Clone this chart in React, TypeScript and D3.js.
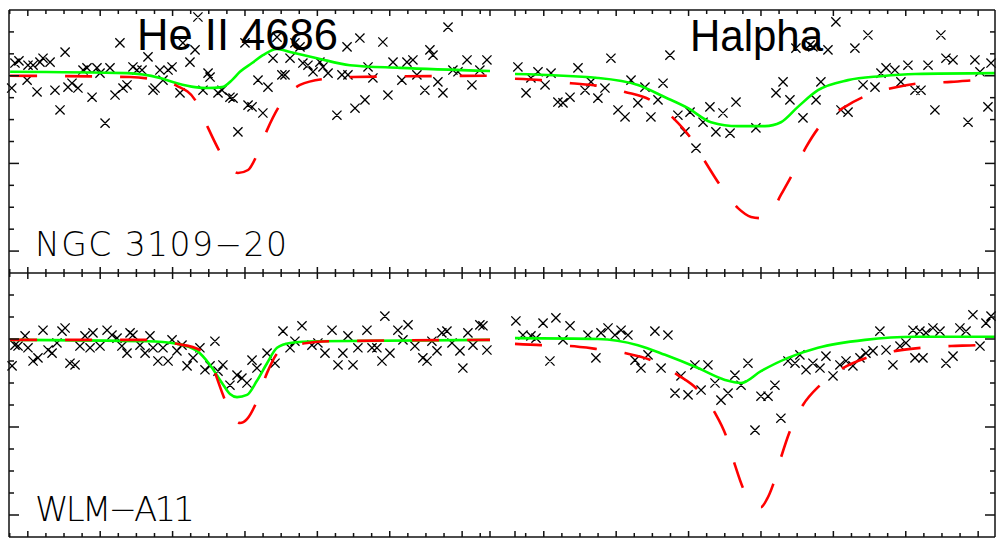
import React from 'react';
import * as d3 from 'd3';

const W = 998;
const H = 540;

// wavelength windows (Angstrom) of the two columns and the flux window
const heRange: [number, number] = [4672.96, 4699.54];
const haRange: [number, number] = [6549.41, 6575.93];
const fluxRange: [number, number] = [0.55, 1.15];

const lineTitles = ['He II 4686', 'Halpha'];
const starNames = ['NGC 3109\u221220', 'WLM\u2212A11'];

// x tick values (1 A minor, 4 A major)
const heTicks = d3.range(4673, 4700, 1);
const haTicks = d3.range(6550, 6576, 1);
const heMajorRef = 4674;
const haMajorRef = 6563;
// y tick values (0.05 minor, 0.2 major)
const fluxTicks = [0.6, 0.65, 0.7, 0.75, 0.8, 0.85, 0.9, 0.95, 1.0, 1.05, 1.1];
const fluxMajor = [0.6, 0.8, 1.0];

// ---------- NGC 3109-20, He II 4686 ----------
const ngcHeObs: [number, number][] = [
  [4673.11, 0.972], [4673.29, 1.029], [4673.51, 1.034], [4674.01, 1.024], [4673.96, 0.990], [4674.29, 1.024],
  [4674.51, 0.963], [4674.67, 1.031], [4674.84, 1.040], [4675.23, 1.031], [4675.50, 0.967], [4675.78, 0.922],
  [4676.06, 1.054], [4676.22, 0.974], [4676.44, 0.983], [4676.77, 0.972], [4677.05, 1.013], [4677.27, 1.018],
  [4677.55, 0.951], [4677.82, 1.018], [4677.99, 1.006], [4678.27, 0.892], [4678.54, 1.018], [4678.82, 0.956],
  [4679.09, 1.075], [4679.26, 0.972], [4679.48, 0.979], [4679.81, 1.020], [4680.03, 1.013], [4680.31, 1.013],
  [4680.64, 1.043], [4680.92, 0.967], [4681.03, 0.972], [4681.30, 1.013], [4681.47, 0.990], [4681.75, 1.013],
  [4681.97, 1.020], [4682.41, 0.961], [4682.57, 1.075], [4682.96, 1.031], [4683.24, 1.059], [4683.40, 1.134],
  [4683.68, 0.967], [4683.96, 1.006], [4684.07, 0.997], [4684.51, 0.961], [4684.73, 0.967], [4685.17, 0.951],
  [4685.34, 0.949], [4685.61, 0.872], [4686.00, 1.075], [4686.17, 0.933], [4686.39, 0.929], [4686.72, 0.990],
  [4686.99, 0.915], [4687.27, 0.974], [4687.55, 1.040], [4687.77, 1.088], [4688.04, 1.002], [4688.21, 1.002],
  [4688.49, 1.040], [4688.76, 1.075], [4689.04, 1.066], [4689.20, 1.029], [4689.48, 1.024], [4689.76, 1.009],
  [4690.14, 1.031], [4690.31, 1.020], [4690.59, 1.006], [4691.08, 0.910], [4691.36, 1.002], [4691.64, 1.066],
  [4691.69, 1.002], [4692.08, 0.926], [4692.35, 1.086], [4692.63, 0.945], [4692.80, 1.020], [4693.07, 0.995],
  [4693.62, 1.077], [4693.90, 0.956], [4694.18, 1.031], [4694.67, 0.990], [4694.95, 1.031], [4695.28, 1.036],
  [4695.50, 1.002], [4695.94, 0.967], [4696.22, 1.059], [4696.39, 1.047], [4696.66, 0.986], [4696.94, 0.961],
  [4697.22, 1.111], [4697.49, 1.013], [4697.77, 1.009], [4698.27, 1.036], [4698.54, 0.979], [4698.98, 1.013],
  [4699.37, 1.036],
];
const ngcHeFit: [number, number][] = [
  [4673.02, 1.009], [4679.48, 1.006], [4681.30, 0.995], [4682.24, 0.983], [4683.24, 0.974], [4683.90, 0.972],
  [4684.73, 0.974], [4685.28, 0.990], [4685.72, 1.009], [4686.39, 1.029], [4686.99, 1.047], [4687.77, 1.061],
  [4688.49, 1.054], [4689.98, 1.040], [4691.80, 1.024], [4694.56, 1.018], [4699.54, 1.011],
];
const ngcHeModel: [number, number][] = [
  [4673.02, 1.000], [4679.65, 0.997], [4680.75, 0.993], [4682.24, 0.977], [4683.24, 0.945], [4683.96, 0.881],
  [4684.62, 0.826], [4685.17, 0.792], [4685.61, 0.778], [4686.17, 0.785], [4686.66, 0.819], [4687.22, 0.876],
  [4687.93, 0.933], [4689.04, 0.979], [4690.42, 0.993], [4691.97, 0.997], [4699.54, 1.000],
];

// ---------- NGC 3109-20, Halpha ----------
const ngcHaObs: [number, number][] = [
  [6549.57, 1.020], [6550.02, 0.961], [6550.29, 0.995], [6550.68, 1.009], [6551.07, 0.979], [6551.40, 1.006],
  [6551.78, 0.940], [6552.06, 0.938], [6552.45, 0.951], [6552.89, 1.018], [6553.28, 0.967], [6553.61, 0.986],
  [6553.99, 0.949], [6554.38, 0.972], [6554.71, 1.040], [6555.10, 0.922], [6555.49, 0.906], [6555.82, 0.990],
  [6556.20, 0.938], [6556.59, 0.974], [6556.92, 0.906], [6557.31, 0.945], [6557.59, 0.983], [6557.97, 1.047],
  [6558.41, 0.910], [6558.80, 0.872], [6559.08, 0.917], [6559.41, 0.835], [6559.80, 0.894], [6560.18, 0.929],
  [6560.51, 0.872], [6560.90, 0.915], [6561.29, 0.869], [6561.62, 0.940], [6562.72, 0.881], [6563.83, 0.961],
  [6564.22, 0.986], [6564.60, 0.945], [6564.93, 1.063], [6565.32, 0.904], [6565.71, 1.070], [6565.87, 1.066],
  [6566.04, 0.945], [6566.31, 0.986], [6566.70, 1.059], [6567.14, 1.123], [6567.42, 0.922], [6567.81, 0.917],
  [6568.19, 1.063], [6568.64, 0.979], [6568.91, 1.093], [6569.30, 0.974], [6569.63, 1.006], [6569.91, 1.018],
  [6570.40, 1.013], [6570.73, 0.986], [6571.12, 1.024], [6571.51, 0.967], [6571.84, 0.967], [6572.23, 1.024],
  [6572.61, 0.922], [6572.94, 1.093], [6573.22, 1.040], [6573.61, 1.036], [6574.44, 0.894], [6574.82, 1.036],
  [6575.10, 1.009], [6575.54, 0.929], [6575.71, 1.029],
];
const ngcHaFit: [number, number][] = [
  [6549.41, 1.004], [6553.99, 0.995], [6556.20, 0.979], [6557.70, 0.951], [6558.97, 0.926], [6560.24, 0.894],
  [6561.73, 0.885], [6563.22, 0.885], [6564.10, 0.894], [6565.04, 0.929], [6566.15, 0.967], [6567.81, 0.990],
  [6569.63, 0.999], [6571.51, 1.004], [6575.93, 1.006],
];
const ngcHaModel: [number, number][] = [
  [6549.41, 0.993], [6550.85, 0.990], [6552.50, 0.983], [6553.99, 0.977], [6555.49, 0.963], [6556.87, 0.945],
  [6558.14, 0.904], [6559.08, 0.860], [6559.96, 0.801], [6560.73, 0.751], [6561.73, 0.698], [6562.45, 0.678],
  [6563.00, 0.675], [6563.55, 0.687], [6564.10, 0.728], [6564.77, 0.778], [6565.49, 0.837], [6566.31, 0.888],
  [6567.64, 0.929], [6568.91, 0.956], [6570.46, 0.974], [6571.84, 0.983], [6573.50, 0.986], [6574.88, 0.990],
  [6575.93, 0.993],
];

// ---------- WLM-A11, He II 4686 ----------
const wlmHeObs: [number, number][] = [
  [4673.13, 0.939], [4673.29, 0.986], [4673.46, 0.984], [4673.85, 1.007], [4674.01, 0.980], [4674.29, 0.950],
  [4674.56, 0.957], [4674.84, 1.020], [4675.12, 0.975], [4675.34, 0.968], [4675.61, 0.991], [4675.89, 1.018],
  [4676.06, 1.025], [4676.33, 0.945], [4676.61, 0.941], [4676.88, 0.984], [4677.16, 1.007], [4677.44, 0.980],
  [4677.60, 1.014], [4677.99, 0.984], [4678.38, 1.020], [4678.65, 1.009], [4678.93, 1.002], [4679.20, 0.984],
  [4679.48, 0.968], [4679.65, 1.014], [4679.81, 1.009], [4680.20, 0.986], [4680.48, 0.968], [4680.75, 1.007],
  [4680.92, 0.980], [4681.19, 0.950], [4681.47, 0.980], [4681.75, 0.950], [4681.97, 0.998], [4682.24, 0.973],
  [4682.52, 0.986], [4682.80, 0.939], [4683.13, 0.957], [4683.51, 0.980], [4683.79, 0.930], [4684.07, 0.939],
  [4684.34, 0.995], [4684.51, 0.927], [4684.78, 0.941], [4685.17, 0.895], [4685.56, 0.918], [4685.83, 0.911],
  [4686.11, 0.900], [4686.39, 0.952], [4686.66, 0.934], [4687.22, 0.968], [4687.66, 0.945], [4688.10, 1.018],
  [4688.49, 0.980], [4688.76, 0.995], [4689.15, 1.030], [4689.70, 0.986], [4690.03, 0.991], [4690.42, 0.968],
  [4690.81, 1.020], [4691.14, 0.941], [4691.41, 0.968], [4691.69, 1.007], [4691.97, 0.941], [4692.24, 0.980],
  [4692.74, 1.020], [4693.02, 0.980], [4693.29, 0.980], [4693.57, 0.950], [4693.73, 1.052], [4694.01, 0.968],
  [4694.45, 1.020], [4694.73, 0.998], [4695.01, 1.032], [4695.39, 0.984], [4695.83, 0.957], [4696.06, 0.950],
  [4696.33, 0.995], [4696.61, 0.973], [4696.88, 1.014], [4697.16, 1.018], [4697.44, 0.991], [4697.88, 0.973],
  [4698.04, 0.934], [4698.32, 1.014], [4698.60, 0.986], [4698.98, 1.032], [4699.15, 1.030], [4699.37, 0.975],
];
const wlmHeFit: [number, number][] = [
  [4673.02, 0.998], [4680.59, 0.995], [4682.24, 0.989], [4683.35, 0.973], [4684.07, 0.941], [4684.73, 0.900],
  [4685.17, 0.875], [4685.56, 0.868], [4686.11, 0.873], [4686.66, 0.905], [4687.22, 0.945], [4687.77, 0.980],
  [4688.49, 0.991], [4689.98, 0.995], [4699.54, 0.998],
];
const wlmHeModel: [number, number][] = [
  [4673.02, 0.998], [4680.75, 0.998], [4682.24, 0.989], [4683.51, 0.975], [4684.07, 0.957], [4684.45, 0.911],
  [4684.90, 0.861], [4685.34, 0.825], [4685.72, 0.809], [4686.11, 0.818], [4686.66, 0.859], [4687.22, 0.923],
  [4687.93, 0.973], [4689.43, 0.991], [4690.86, 0.995], [4699.54, 0.998],
];

// ---------- WLM-A11, Halpha ----------
const wlmHaObs: [number, number][] = [
  [6549.46, 1.041], [6549.85, 1.009], [6550.29, 1.007], [6550.57, 1.002], [6550.96, 1.036], [6551.34, 0.950],
  [6551.67, 1.048], [6552.06, 0.998], [6552.45, 1.030], [6553.44, 1.009], [6553.88, 0.957], [6554.16, 1.014],
  [6554.55, 1.025], [6554.93, 1.009], [6555.27, 1.020], [6555.65, 1.009], [6556.04, 0.952], [6556.37, 0.934],
  [6556.76, 0.964], [6557.14, 1.018], [6557.48, 0.934], [6557.86, 1.009], [6558.25, 0.877], [6558.58, 0.916],
  [6558.97, 0.873], [6559.35, 0.941], [6559.69, 0.884], [6560.07, 0.941], [6560.46, 0.900], [6560.79, 0.861],
  [6561.18, 0.877], [6561.56, 0.918], [6561.90, 0.895], [6562.28, 0.945], [6562.67, 0.793], [6563.00, 0.870],
  [6563.39, 0.870], [6563.77, 0.895], [6564.10, 0.820], [6564.49, 0.950], [6564.88, 0.945], [6565.15, 0.964],
  [6565.49, 0.930], [6565.87, 0.945], [6566.26, 0.934], [6566.59, 0.961], [6566.98, 0.916], [6567.36, 0.941],
  [6567.70, 0.950], [6568.08, 0.939], [6568.47, 0.957], [6568.80, 0.968], [6569.19, 0.973], [6569.57, 1.018],
  [6569.91, 0.975], [6570.29, 0.941], [6570.68, 0.984], [6571.01, 0.991], [6571.40, 1.020], [6571.51, 0.957],
  [6571.78, 1.018], [6571.95, 0.957], [6572.12, 1.014], [6572.50, 1.025], [6572.89, 1.018], [6573.22, 0.945],
  [6573.61, 0.961], [6573.99, 1.025], [6574.33, 1.018], [6574.71, 1.055], [6575.10, 0.984], [6575.43, 1.036],
  [6575.71, 1.052],
];
const wlmHaFit: [number, number][] = [
  [6549.41, 1.002], [6553.99, 1.000], [6556.20, 0.986], [6557.70, 0.964], [6559.52, 0.934], [6561.01, 0.907],
  [6561.90, 0.900], [6563.00, 0.927], [6564.49, 0.957], [6566.15, 0.980], [6568.75, 0.998], [6571.51, 1.005],
  [6575.93, 1.005],
];
const wlmHaModel: [number, number][] = [
  [6549.41, 0.989], [6550.85, 0.986], [6552.45, 0.984], [6553.99, 0.977], [6555.49, 0.968], [6556.92, 0.952],
  [6558.41, 0.918], [6559.52, 0.884], [6560.46, 0.832], [6561.07, 0.780], [6561.56, 0.714], [6562.01, 0.661],
  [6562.50, 0.627], [6563.00, 0.618], [6563.33, 0.636], [6563.66, 0.668], [6564.10, 0.730], [6564.60, 0.791],
  [6565.32, 0.850], [6566.26, 0.895], [6567.53, 0.934], [6568.80, 0.957], [6570.46, 0.973], [6571.84, 0.980],
  [6573.50, 0.984], [6574.88, 0.986], [6575.93, 0.989],
];

const panels = [
  { row: 0, col: 0, obs: ngcHeObs, fit: ngcHeFit, model: ngcHeModel },
  { row: 0, col: 1, obs: ngcHaObs, fit: ngcHaFit, model: ngcHaModel },
  { row: 1, col: 0, obs: wlmHeObs, fit: wlmHeFit, model: wlmHeModel },
  { row: 1, col: 1, obs: wlmHaObs, fit: wlmHaFit, model: wlmHaModel },
];

// layout
const frameL = 9;
const frameR = 995;
const frameT = 10;
const frameM = 273;
const frameB = 537;
const colEdges = [
  [9, 490],
  [515, 995],
];

const xScales = [
  d3.scaleLinear().domain(heRange).range(colEdges[0] as [number, number]),
  d3.scaleLinear().domain(haRange).range(colEdges[1] as [number, number]),
];
const yScales = [
  d3.scaleLinear().domain(fluxRange).range([frameM, frameT]),
  d3.scaleLinear().domain(fluxRange).range([frameB, frameM]),
];

const GREEN = '#00ff00';
const RED = '#ff0000';
const AX = '#111';

function crossPath(pts: [number, number][], xs: d3.ScaleLinear<number, number>, ys: d3.ScaleLinear<number, number>) {
  const s = 4.6;
  return pts
    .map(([l, f]) => {
      const x = xs(l);
      const y = ys(f);
      return `M${x - s},${y - s}L${x + s},${y + s}M${x - s},${y + s}L${x + s},${y - s}`;
    })
    .join('');
}

export default function App() {
  const ticksX: React.ReactNode[] = [];
  const colTicks = [
    { vals: heTicks, ref: heMajorRef },
    { vals: haTicks, ref: haMajorRef },
  ];
  colTicks.forEach((ct, c) => {
    const xs = xScales[c];
    const list = ct.vals.map((v) => ({ x: xs(v), major: Math.abs(((v - ct.ref) % 4 + 4) % 4) < 1e-6 }));
    list.push({ x: colEdges[c][c === 0 ? 1 : 0], major: true });
    list.forEach((t, i) => {
      const len = t.major ? 6 : 4;
      ticksX.push(
        <g key={`xt${c}-${i}`}>
          <line x1={t.x} x2={t.x} y1={frameT} y2={frameT + len} />
          <line x1={t.x} x2={t.x} y1={frameM - len} y2={frameM + len} />
          <line x1={t.x} x2={t.x} y1={frameB - len} y2={frameB} />
        </g>
      );
    });
  });

  const ticksY: React.ReactNode[] = [];
  yScales.forEach((ys, r) => {
    fluxTicks.forEach((v, i) => {
      const major = fluxMajor.some((m) => Math.abs(m - v) < 1e-6);
      const len = major ? 10 : 5;
      const y = ys(v);
      ticksY.push(
        <g key={`yt${r}-${i}`}>
          <line x1={frameL} x2={frameL + len} y1={y} y2={y} />
          <line x1={frameR - len} x2={frameR} y1={y} y2={y} />
        </g>
      );
    });
  });

  const lineGen = (xs: d3.ScaleLinear<number, number>, ys: d3.ScaleLinear<number, number>) =>
    d3
      .line<[number, number]>()
      .x((d) => xs(d[0]))
      .y((d) => ys(d[1]))
      .curve(d3.curveMonotoneX);

  return (
    <svg
      width={W}
      height={H}
      viewBox={`0 0 ${W} ${H}`}
      style={{ position: 'absolute', left: 0, top: 0, background: '#fff' }}
    >
      <rect x={0} y={0} width={W} height={H} fill="#fff" />
      {panels.map((p, i) => {
        const xs = xScales[p.col];
        const ys = yScales[p.row];
        const lg = lineGen(xs, ys);
        return (
          <g key={`p${i}`}>
            <path d={crossPath(p.obs, xs, ys)} stroke="#000" strokeWidth={1.3} fill="none" />
            <path d={lg(p.fit) || ''} stroke={GREEN} strokeWidth={2.6} fill="none" />
            <path d={lg(p.model) || ''} stroke={RED} strokeWidth={2.6} fill="none" strokeDasharray="27 28" />
          </g>
        );
      })}

      <g stroke={AX} strokeWidth={1.5} fill="none">
        <line x1={frameL} x2={frameR} y1={frameT} y2={frameT} />
        <line x1={frameL} x2={frameR} y1={frameM} y2={frameM} />
        <line x1={frameL} x2={frameR} y1={frameB} y2={frameB} />
        <line x1={frameL} x2={frameL} y1={frameT} y2={frameB} />
        <line x1={frameR} x2={frameR} y1={frameT} y2={frameB} />
        {ticksX}
        {ticksY}
      </g>

      <text
        x={137}
        y={50}
        fontFamily="'Liberation Sans', Arial, sans-serif"
        fontSize={45}
        textLength={201}
        lengthAdjust="spacingAndGlyphs"
        fill="#000"
      >
        {lineTitles[0]}
      </text>
      <text
        x={690}
        y={51}
        fontFamily="'Liberation Sans', Arial, sans-serif"
        fontSize={45}
        textLength={133}
        lengthAdjust="spacingAndGlyphs"
        fill="#000"
      >
        {lineTitles[1]}
      </text>

      <text
        x={35}
        y={256}
        fontFamily="'DejaVu Sans', sans-serif"
        fontWeight={200}
        fontSize={33}
        textLength={252}
        lengthAdjust="spacing"
        fill="#000"
      >
        {starNames[0]}
      </text>
      <text
        x={35}
        y={521}
        fontFamily="'DejaVu Sans', sans-serif"
        fontWeight={200}
        fontSize={34}
        textLength={160}
        lengthAdjust="spacing"
        fill="#000"
      >
        {starNames[1]}
      </text>
    </svg>
  );
}
